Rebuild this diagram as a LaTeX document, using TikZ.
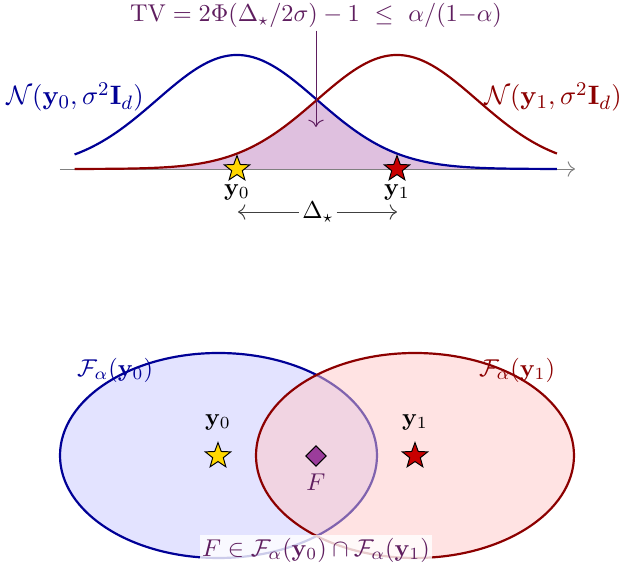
\documentclass[tikz,border=0pt]{standalone}
\usetikzlibrary{shapes.geometric,arrows.meta}
\definecolor{cblue}{RGB}{0,0,150}
\definecolor{cred}{RGB}{140,0,0}
\definecolor{cpurp}{RGB}{95,30,95}
\definecolor{cfill}{RGB}{223,192,223}
\definecolor{cyel}{RGB}{255,215,0}
\definecolor{cstarred}{RGB}{200,0,0}
\definecolor{cdiam}{RGB}{155,60,155}
\begin{document}
\begin{tikzpicture}[x=0.411pt,y=-0.411pt,
  starnode/.style={star,star points=5,star point ratio=2.4,minimum size=11pt,inner sep=0pt,draw=black,line width=0.4pt},
  curve/.style={line width=0.9pt},
  lbl/.style={inner sep=1pt},
  biglbl/.style={inner sep=1pt,font=\fontsize{10.8}{13}\selectfont}]
\useasboundingbox (0,0) rectangle (619,569);
% ---- top panel ----
\fill[cfill] plot[domain=-2.03:4.0,samples=160] ({237+80*\x},{169-114*min(exp(-(\x)*(\x)/2),exp(-(\x-2)*(\x-2)/2))}) -- (557,169) -- (75,169) -- cycle;
\coordinate (axL) at (60,169);
\coordinate (axR) at (575,169);
\draw[gray,-{To[length=3pt]}] (axL) -- (axR);
\draw[cblue,curve] plot[domain=-2.03:4.0,samples=160] ({237+80*\x},{169-114*exp(-(\x)*(\x)/2)});
\draw[cred,curve] plot[domain=-2.03:4.0,samples=160] ({237+80*\x},{169-114*exp(-(\x-2)*(\x-2)/2)});
\node[lbl,text=cpurp] (tv) at (316,15.5) {$\mathrm{TV}=2\Phi(\Delta_\star/2\sigma)-1\ \le\ \alpha/(1{-}\alpha)$};
\coordinate (cross) at (316,127);
\draw[cpurp,-{To[length=3pt]}] (tv.south) -- (cross);
\node[biglbl,text=cblue] (n0) at (75,97) {$\mathcal{N}(\mathbf{y}_0,\sigma^2\mathbf{I}_d)$};
\node[biglbl,text=cred] (n1) at (553,97) {$\mathcal{N}(\mathbf{y}_1,\sigma^2\mathbf{I}_d)$};
\node[starnode,fill=cyel] (s0) at (237,169) {};
\node[starnode,fill=cstarred] (s1) at (397,169) {};
\node[lbl] (ly0) at (237,192) {$\mathbf{y}_0$};
\node[lbl] (ly1) at (397,192) {$\mathbf{y}_1$};
\node[lbl] (dl) at (318,212) {$\Delta_\star$};
\coordinate (d0) at (238,212);
\coordinate (d1) at (397,212);
\draw[black!75,{To[length=3pt]}-] (d0) -- (dl.west);
\draw[black!75,-{To[length=3pt]}] (dl.east) -- (d1);
% ---- bottom panel ----
\draw[cblue,line width=0.9pt,fill=blue!11] (218.5,455.5) ellipse [x radius=158.5,y radius=102.5];
\fill[red!22,fill opacity=0.5] (415,455.5) ellipse [x radius=159,y radius=102.5];
\draw[cred,line width=0.9pt] (415,455.5) ellipse [x radius=159,y radius=102.5];
\node[lbl,text=cblue] (f0) at (115,370) {$\mathcal{F}_\alpha(\mathbf{y}_0)$};
\node[lbl,text=cred] (f1) at (517,370) {$\mathcal{F}_\alpha(\mathbf{y}_1)$};
\node[lbl] (b0) at (218,422) {$\mathbf{y}_0$};
\node[lbl] (b1) at (415,422) {$\mathbf{y}_1$};
\node[starnode,fill=cyel] (t0) at (218,456) {};
\node[starnode,fill=cstarred] (t1) at (415,456) {};
\node[diamond,fill=cdiam,draw=black,line width=0.4pt,minimum size=8.5pt,inner sep=0pt] (dm) at (316,456) {};
\node[lbl,text=cpurp] (fl) at (316,482) {$F$};
\node[lbl,text=cpurp,fill=white,fill opacity=0.8,text opacity=1] (fb) at (316,550) {$F\in\mathcal{F}_\alpha(\mathbf{y}_0)\cap\mathcal{F}_\alpha(\mathbf{y}_1)$};
\end{tikzpicture}
\end{document}
